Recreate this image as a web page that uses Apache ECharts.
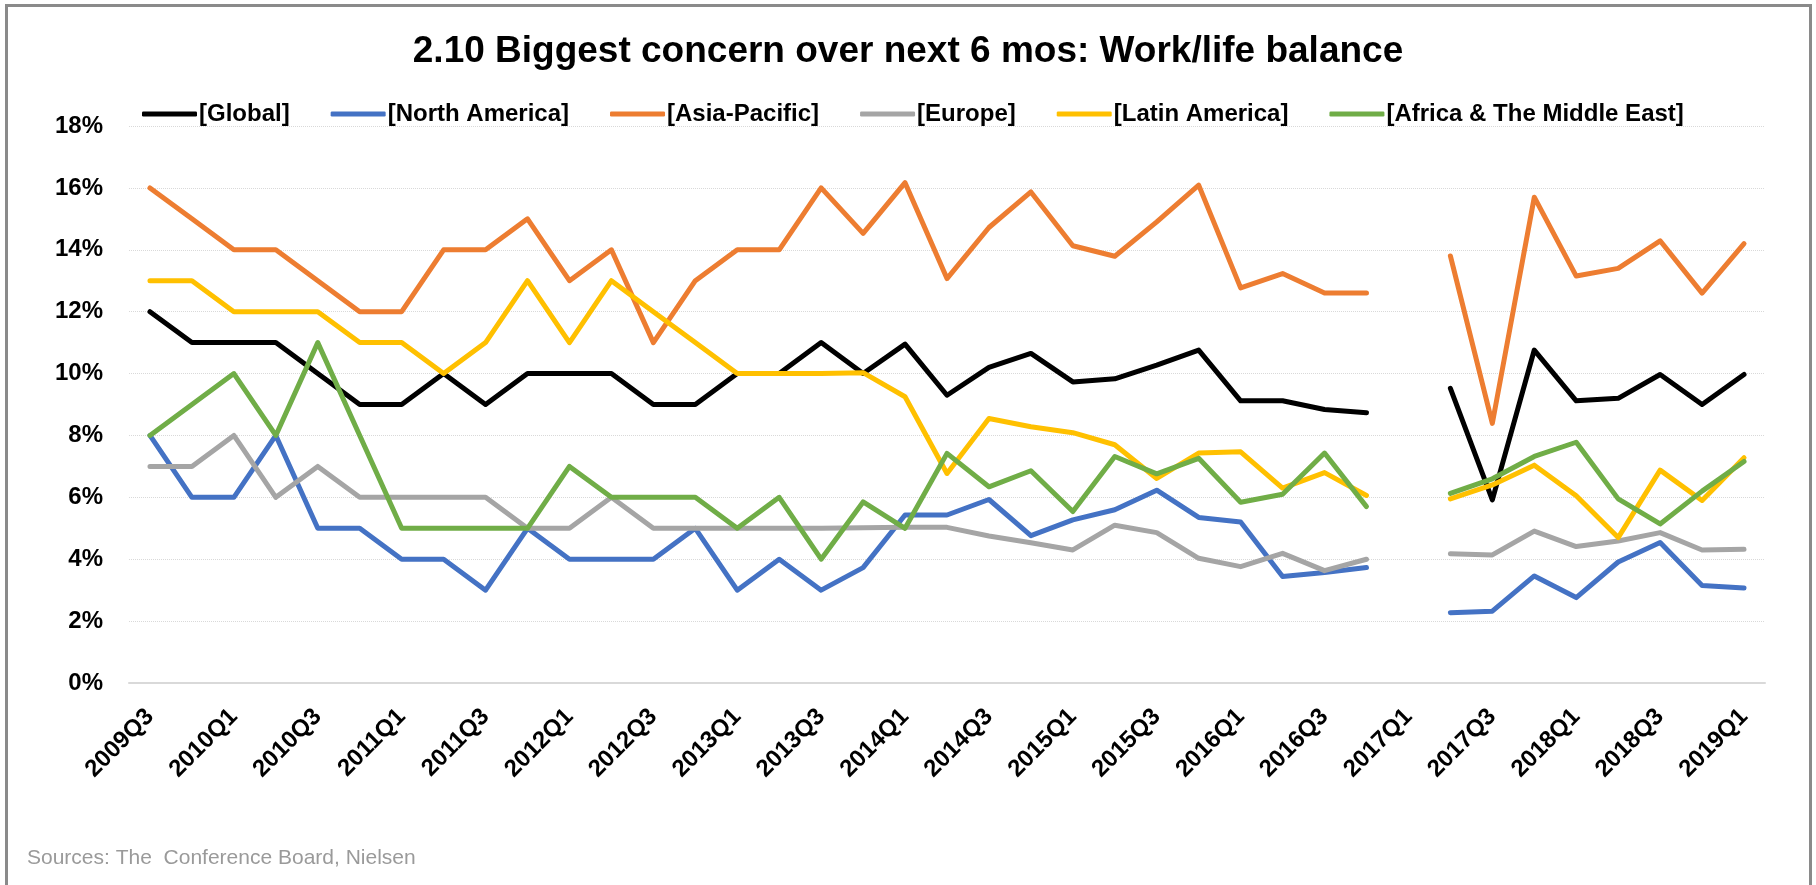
<!DOCTYPE html>
<html lang="en">
<head>
    <meta charset="UTF-8">
    <title>2.10 Biggest concern over next 6 mos: Work/life balance</title>
    <script src="https://cdn.jsdelivr.net/npm/echarts@6/dist/echarts.min.js"></script>
    <style>
        body { margin: 0; background: #fff; overflow: hidden; }
        #wrap { position: relative; width: 1816px; height: 885px; }
        #chart { width: 1816px; height: 885px; }
        .frame { position: absolute; left: 5px; top: 4px; width: 1801px; height: 900px; border: 3px solid #8a8a8a; pointer-events: none; }
    </style>
</head>
<body>
    <div id="wrap">
        <div id="chart"></div>
        <div class="frame"></div>
    </div>

    <script>
        const quarters = [
            '2009Q3', '2009Q4', '2010Q1', '2010Q2', '2010Q3', '2010Q4', '2011Q1', '2011Q2', '2011Q3', '2011Q4',
            '2012Q1', '2012Q2', '2012Q3', '2012Q4', '2013Q1', '2013Q2', '2013Q3', '2013Q4', '2014Q1', '2014Q2',
            '2014Q3', '2014Q4', '2015Q1', '2015Q2', '2015Q3', '2015Q4', '2016Q1', '2016Q2', '2016Q3', '2016Q4',
            '2017Q1', '2017Q2', '2017Q3', '2017Q4', '2018Q1', '2018Q2', '2018Q3', '2018Q4', '2019Q1'
        ];

        // values in %, null = no survey (gap at 2017Q1)
        const globalVals = [12, 11, 11, 11, 10, 9, 9, 10, 9, 10, 10, 10, 9, 9, 10, 10, 11, 10, 10.95, 9.3,
            10.2, 10.65, 9.73, 9.83, 10.27, 10.76, 9.12, 9.12, 8.84, 8.73, null, 9.52, 5.92, 10.76, 9.12, 9.2, 9.97, 9.0, 9.97];
        const northAmerica = [8, 6, 6, 8, 5, 5, 4, 4, 3, 5, 4, 4, 4, 5, 3, 4, 3, 3.73, 5.43, 5.43,
            5.93, 4.76, 5.27, 5.6, 6.23, 5.35, 5.2, 3.44, 3.57, 3.73, null, 2.27, 2.32, 3.46, 2.76, 3.91, 4.54, 3.15, 3.07];
        const asiaPacific = [16, 15, 14, 14, 13, 12, 12, 14, 14, 15, 13, 14, 11, 13, 14, 14, 16, 14.53, 16.17, 13.07,
            14.72, 15.87, 14.13, 13.79, 14.9, 16.09, 12.77, 13.23, 12.6, 12.6, null, 13.8, 8.39, 15.7, 13.15, 13.4, 14.29, 12.6, 14.2];
        const europe = [7, 7, 8, 6, 7, 6, 6, 6, 6, 5, 5, 6, 5, 5, 5, 5, 5, 5.02, 5.03, 5.03,
            4.75, 4.53, 4.3, 5.1, 4.86, 4.03, 3.76, 4.19, 3.63, 4.0, null, 4.18, 4.14, 4.91, 4.41, 4.59, 4.86, 4.3, 4.32];
        const latinAmerica = [13, 13, 12, 12, 12, 11, 11, 10, 11, 13, 11, 13, 12, 11, 10, 10, 10, 10.03, 9.25, 6.77,
            8.55, 8.28, 8.09, 7.7, 6.61, 7.43, 7.47, 6.3, 6.8, 6.06, null, 5.95, 6.4, 7.04, 6.05, 4.7, 6.88, 5.9, 7.28];
        const africaMiddleEast = [8, 9, 10, 8, 11, 8, 5, 5, 5, 5, 7, 6, 6, 6, 5, 6, 4, 5.85, 5.0, 7.42,
            6.34, 6.86, 5.54, 7.32, 6.76, 7.26, 5.84, 6.1, 7.43, 5.7, null, 6.13, 6.6, 7.32, 7.78, 5.95, 5.14, 6.2, 7.16];

        const seriesNames = ['[Global]', '[North America]', '[Asia-Pacific]', '[Europe]', '[Latin America]', '[Africa & The Middle East]'];
        const seriesData = [globalVals, northAmerica, asiaPacific, europe, latinAmerica, africaMiddleEast];
        const colors = ['#000000', '#4472C4', '#ED7D31', '#A5A5A5', '#FFC000', '#70AD47'];

        const font = '"Liberation Sans", Arial, sans-serif';
        const chart = echarts.init(document.getElementById('chart'));

        chart.setOption({
            animation: false,
            color: colors,
            title: {
                text: '2.10 Biggest concern over next 6 mos: Work/life balance',
                left: 'center',
                top: 28,
                textStyle: { fontFamily: font, fontWeight: 'bold', fontSize: 37, color: '#000' }
            },
            legend: {
                data: seriesNames,
                left: 137,
                top: 97,
                icon: 'roundRect',
                itemWidth: 55,
                itemHeight: 5,
                itemGap: 41,
                textStyle: { fontFamily: font, fontWeight: 'bold', fontSize: 24, color: '#000', padding: [0, 0, 0, -3] }
            },
            grid: { left: 129, right: 51, top: 126, bottom: 202 },
            xAxis: {
                type: 'category',
                data: quarters,
                boundaryGap: true,
                axisLine: { lineStyle: { color: '#d9d9d9', width: 2 } },
                axisTick: { show: false },
                axisLabel: {
                    interval: 1,
                    rotate: 45,
                    margin: 30,
                    fontFamily: font,
                    fontWeight: 'bold',
                    fontSize: 24,
                    color: '#000'
                }
            },
            yAxis: {
                type: 'value',
                min: 0,
                max: 18,
                interval: 2,
                axisLine: { show: false },
                axisTick: { show: false },
                splitLine: { lineStyle: { color: '#d9d9d9', type: 'dotted', width: 1 } },
                axisLabel: {
                    formatter: '{value}%',
                    margin: 26,
                    fontFamily: font,
                    fontWeight: 'bold',
                    fontSize: 24,
                    color: '#000'
                }
            },
            series: seriesNames.map((name, i) => ({
                name: name,
                type: 'line',
                data: seriesData[i],
                symbol: 'none',
                connectNulls: false,
                lineStyle: { width: 5, color: colors[i], cap: 'round', join: 'round' }
            })),
            graphic: [{
                type: 'text',
                left: 27,
                top: 848,
                style: { text: 'Sources: The  Conference Board, Nielsen', font: '21px ' + font, fill: '#9a9a9a' }
            }]
        });
    </script>
</body>
</html>
